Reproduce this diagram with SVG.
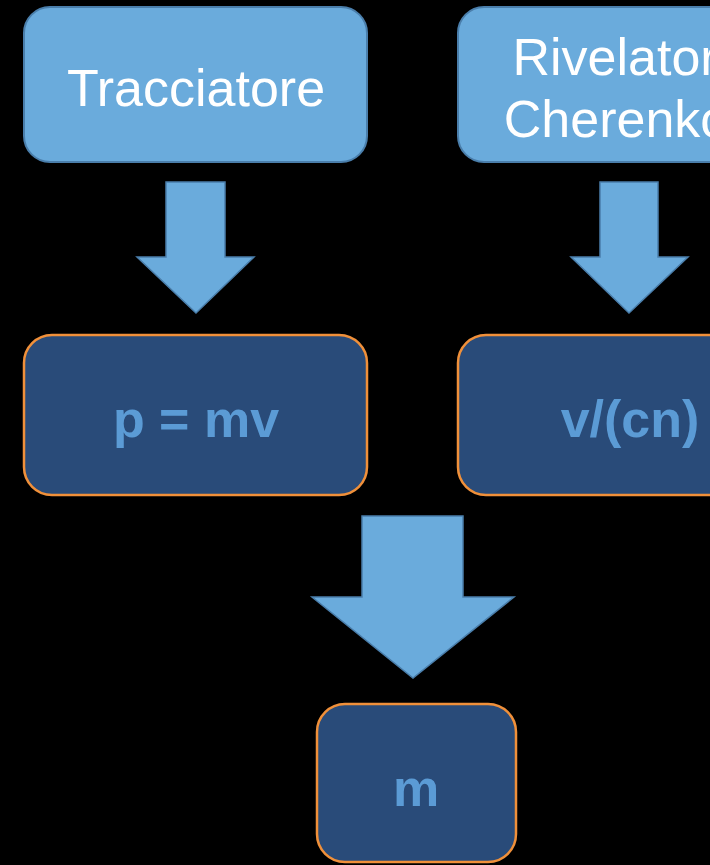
<svg xmlns="http://www.w3.org/2000/svg" width="710" height="865" viewBox="0 0 710 865">
  <style>
    .src { fill: #6AABDC; stroke: #4A7EAB; stroke-width: 2; }
    .res { fill: #294B79; stroke: #F0903A; stroke-width: 2.5; }
    .arrow { fill: #6AABDC; stroke: #4A7EAB; stroke-width: 1.5; stroke-linejoin: miter; }
    .lbl { font-family: "Liberation Sans", Arial, sans-serif; font-size: 52px; fill: #FFFFFF; text-anchor: middle; }
    .val { font-family: "Liberation Sans", Arial, sans-serif; font-size: 52px; font-weight: bold; fill: #5B9BD5; text-anchor: middle; }
  </style>
  <rect width="710" height="865" fill="#000000"/>

  <g id="tracciatore">
    <rect class="src" x="24" y="7" width="343" height="155" rx="26"/>
    <text class="lbl" x="196" y="106">Tracciatore</text>
  </g>

  <g id="cherenkov">
    <rect class="src" x="458" y="7" width="343" height="155" rx="26"/>
    <text class="lbl" x="629.5" y="75">Rivelatore</text>
    <text class="lbl" x="629.5" y="137">Cherenkov</text>
  </g>

  <g id="momentum">
    <rect class="res" x="24" y="335" width="343" height="160" rx="28"/>
    <text class="val" x="196" y="437">p = mv</text>
  </g>

  <g id="velocity">
    <rect class="res" x="458" y="335" width="343" height="160" rx="28"/>
    <text class="val" x="630" y="437">v/(cn)</text>
  </g>

  <g id="mass">
    <rect class="res" x="317" y="704" width="199" height="158" rx="28"/>
    <text class="val" x="416" y="806">m</text>
  </g>

  <g id="connectors">
    <polygon class="arrow" points="166,182 225,182 225,257 254,257 196,313 137,257 166,257"/>
    <polygon class="arrow" points="600,182 658,182 658,257 688,257 629,313 571,257 600,257"/>
    <polygon class="arrow" points="362,516 463,516 463,597 514,597 413,678 312,597 362,597"/>
  </g>
</svg>
